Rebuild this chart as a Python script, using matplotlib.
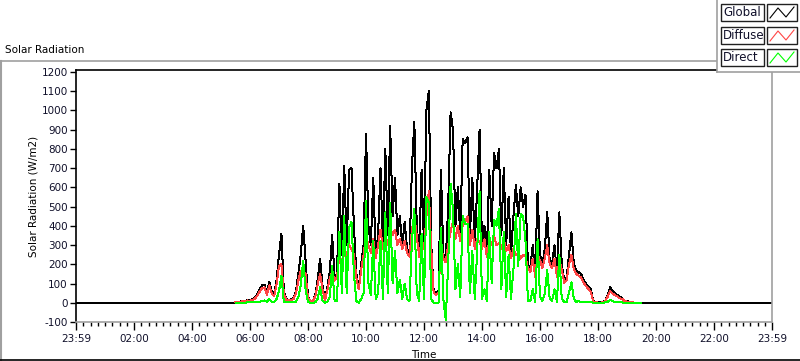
import numpy as np
import matplotlib
matplotlib.use("Agg")
import matplotlib.pyplot as plt
from matplotlib.lines import Line2D
from matplotlib.patches import Rectangle

plt.rcParams['font.family'] = ['DejaVu Sans']

# ---------------- data (W/m2), 5-minute samples starting 05:30 ----------------
start_hour = 5.5
step_minutes = 5

global_wm2 = [
    2, 4, 6, 8, 10, 14, 12, 18, 25, 45, 70, 90, 95, 50, 110, 60, 45, 120, 250, 360,
    60, 20, 15, 18, 25, 60, 150, 250, 400, 220, 30, 10, 10, 40, 120, 230, 90, 15, 80, 160,
    350, 130, 150, 620, 250, 710, 300, 690, 700, 400, 150, 80, 200, 300, 880, 400, 300, 650, 250, 350,
    700, 300, 800, 350, 920, 450, 650, 350, 450, 300, 420, 280, 250, 700, 940, 400, 250, 690, 300, 1000,
    1100, 300, 60, 50, 60, 690, 250, 220, 500, 990, 900, 400, 600, 350, 850, 830, 860, 350, 650, 300,
    600, 900, 300, 400, 250, 690, 400, 780, 700, 800, 350, 700, 300, 550, 250, 450, 610, 450, 600, 500,
    560, 200, 180, 300, 150, 580, 250, 200, 280, 470, 220, 200, 300, 150, 470, 200, 120, 130, 250, 366,
    200, 170, 158, 150, 120, 100, 85, 70, 10, 3, 2, 2, 3, 10, 40, 80, 60, 50, 40, 30,
    25, 12, 8, 6, 3, 1, 0, 0, 0,
]

diffuse_wm2 = [
    2, 4, 6, 7, 9, 12, 10, 15, 20, 36, 58, 75, 80, 40, 90, 48, 36, 95, 190, 200,
    48, 16, 12, 14, 20, 48, 115, 165, 165, 150, 24, 8, 8, 32, 95, 150, 70, 12, 65, 125,
    160, 115, 135, 250, 200, 260, 250, 300, 280, 250, 130, 70, 170, 250, 350, 300, 260, 330, 230, 300,
    380, 280, 330, 300, 400, 350, 380, 300, 330, 280, 320, 260, 240, 380, 450, 350, 240, 330, 280, 450,
    580, 280, 50, 42, 50, 300, 230, 210, 300, 370, 420, 330, 400, 320, 400, 420, 450, 300, 380, 280,
    330, 320, 280, 330, 240, 320, 300, 350, 300, 310, 280, 330, 270, 300, 230, 280, 250, 260, 230, 250,
    240, 180, 160, 230, 135, 250, 220, 180, 230, 300, 200, 180, 230, 135, 220, 175, 105, 115, 200, 250,
    175, 150, 140, 132, 105, 88, 72, 58, 8, 2, 1, 1, 2, 8, 32, 60, 48, 40, 32, 24,
    20, 10, 6, 5, 2, 1, 0, 0, 0,
]

direct_wm2 = [
    0, 0, 0, 0, 1, 2, 2, 3, 3, 4, 5, 8, 12, 5, 18, 6, 4, 20, 60, 140,
    5, 3, 2, 2, 3, 5, 30, 90, 220, 70, 3, 0, 0, 2, 20, 80, 10, 0, 5, 30,
    190, 10, 10, 370, 50, 450, 50, 390, 420, 150, 10, 0, 20, 50, 530, 100, 40, 320, 20, 50,
    320, 20, 470, 50, 520, 100, 270, 50, 120, 20, 100, 20, 10, 320, 490, 50, 10, 360, 20, 550,
    520, 20, 0, 0, 0, 390, 20, -90, 200, 620, 480, 70, 200, 30, 450, 410, 410, 50, 270, 20,
    270, 580, 20, 70, 10, 370, 100, 430, 400, 490, 70, 370, 30, 250, 20, 170, 460, 190, 460, 450,
    320, 10, 10, 70, 5, 330, 30, 10, 50, 170, 20, 10, 70, 5, 250, 20, 5, 5, 50, 106,
    20, 5, 8, 5, 3, 5, 3, 3, 0, 0, 0, 0, 0, 2, 5, 15, 8, 5, 4, 3,
    2, 0, 0, 0, 0, 0, 0, 0, 0,
]

night_value = 0
day_start, day_end = 0.0, 24.0

tick_hours = [0, 2, 4, 6, 8, 10, 12, 14, 16, 18, 20, 22, 24]
tick_labels = ["23:59", "02:00", "04:00", "06:00", "08:00", "10:00", "12:00",
               "14:00", "16:00", "18:00", "20:00", "22:00", "23:59"]
y_ticks = list(range(-100, 1201, 100))

series_names = ["Global", "Diffuse", "Direct"]
series_colors = ["#000000", "#ff4545", "#00ff00"]

# ---------------- figure ----------------
W, H = 800, 361
fig = plt.figure(figsize=(W / 100, H / 100), dpi=100)
fig.patch.set_facecolor("white")

def fx(x):
    return x / W

def fy(y):
    return 1 - y / H

ax_l, ax_r, ax_t, ax_b = 76, 772, 70, 322
ax = fig.add_axes([fx(ax_l), fy(ax_b), fx(ax_r) - fx(ax_l), fy(ax_t) - fy(ax_b)])

n = len(global_wm2)
t = start_hour + np.arange(n) * step_minutes / 60.0
t_global = np.concatenate([[day_start], [start_hour - step_minutes / 60.0], t, [t[-1] + step_minutes / 60.0], [day_end]])
g_full = np.concatenate([[night_value, night_value], global_wm2, [night_value, night_value]])

LW = 0.72
ax.plot(t_global, g_full, color=series_colors[0], lw=LW, antialiased=False)
ax.plot(t, diffuse_wm2, color=series_colors[1], lw=LW, antialiased=False)
ax.plot(t, direct_wm2, color=series_colors[2], lw=LW, antialiased=False)

ax.set_xlim(0, 24)
ax.set_ylim(-100, 1210)
ax.set_yticks(y_ticks)
ax.set_yticklabels([str(v) for v in y_ticks])
ax.set_xticks(tick_hours)
ax.set_xticklabels(tick_labels)
ax.set_xticks(np.arange(0, 24.01, 0.25), minor=True)

ax.tick_params(axis="y", which="major", direction="out", length=4, width=1, color="black",
               labelsize=7.5, pad=2, labelcolor="#10102a")
ax.tick_params(axis="x", which="major", direction="out", length=6, width=1, color="black",
               labelsize=7.5, pad=3, labelcolor="#10102a")
ax.tick_params(axis="x", which="minor", direction="out", length=3, width=1, color="black")

for side in ["left", "top"]:
    ax.spines[side].set_color("black")
    ax.spines[side].set_linewidth(1.2)
for side in ["right", "bottom"]:
    ax.spines[side].set_color("#a0a0a0")
    ax.spines[side].set_linewidth(1.2)

ax.set_xlabel("Time", fontsize=7.5, labelpad=4)
ax.set_ylabel("Solar Radiation (W/m2)", fontsize=7.5, labelpad=2)

# title
fig.text(fx(5), fy(50), "Solar Radiation", fontsize=7.5, ha="left", va="center")

# outer panel frame
fig.add_artist(Line2D([fx(0), fx(717)], [fy(61), fy(61)], color="#a0a0a0", lw=1.2))
fig.add_artist(Line2D([fx(1), fx(1)], [fy(61), fy(361)], color="#a0a0a0", lw=1.5))
fig.add_artist(Line2D([fx(0), fx(800)], [fy(359.5), fy(359.5)], color="black", lw=1.2))

# legend panel (covers part of the plot top)
fig.add_artist(Rectangle((fx(717), fy(72)), fx(800) - fx(717), fy(0) - fy(72),
                         transform=fig.transFigure, facecolor="white", edgecolor="none", zorder=5))
fig.add_artist(Line2D([fx(717), fx(717)], [fy(0), fy(72)], color="#a0a0a0", lw=1.2, zorder=6))
fig.add_artist(Line2D([fx(717), fx(800)], [fy(72), fy(72)], color="#a0a0a0", lw=1.2, zorder=6))

row_tops = [4, 27, 49]
row_h = 17
for name, col, top in zip(series_names, series_colors, row_tops):
    fig.add_artist(Rectangle((fx(721), fy(top + row_h)), fx(764) - fx(721), fy(top) - fy(top + row_h),
                             transform=fig.transFigure, facecolor="white", edgecolor="#202020",
                             lw=1.0, zorder=7))
    fig.text(fx(723), fy(top + row_h / 2), name, fontsize=8.5, ha="left", va="center",
             color="#10102a", zorder=8)
    fig.add_artist(Rectangle((fx(767), fy(top + row_h)), fx(797) - fx(767), fy(top) - fy(top + row_h),
                             transform=fig.transFigure, facecolor="white", edgecolor="#202020",
                             lw=1.0, zorder=7))
    xs = [fx(770), fx(778), fx(786), fx(794)]
    ys = [fy(top + row_h - 3), fy(top + 4), fy(top + row_h - 4), fy(top + 3)]
    fig.add_artist(Line2D(xs, ys, color=col, lw=0.8, zorder=8))

fig.savefig("out.png", dpi=100, facecolor="white")
